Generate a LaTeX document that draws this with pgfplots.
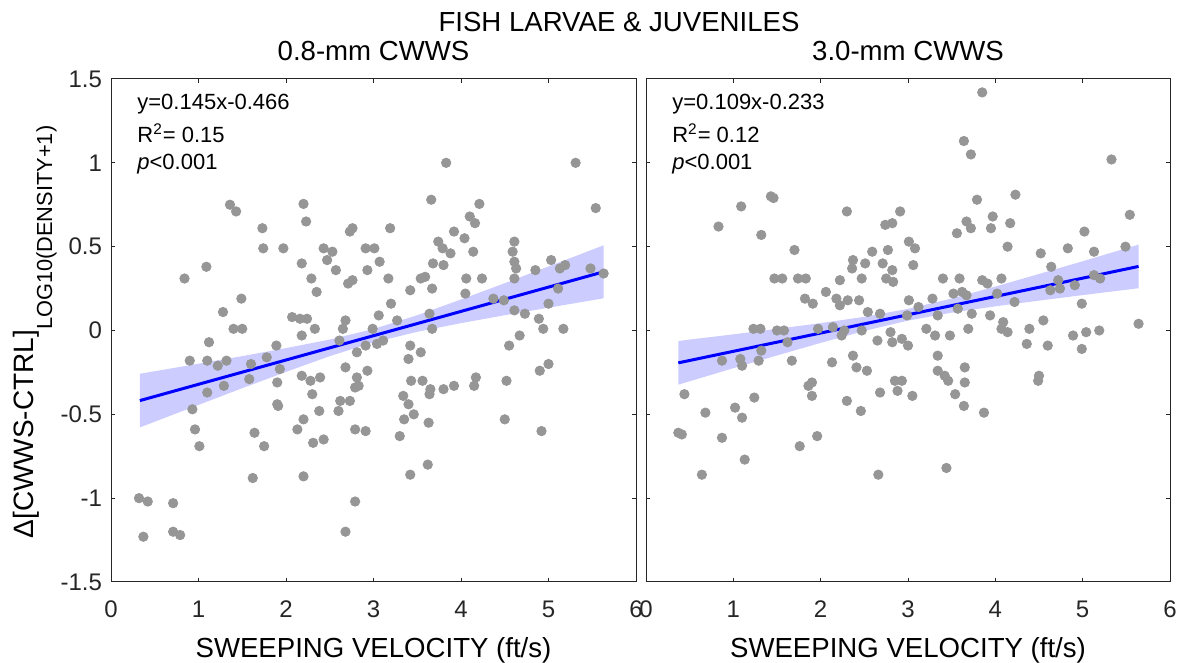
\documentclass[border=0pt]{standalone}
\usepackage{fontspec}
\setmainfont{Liberation Sans}
\usepackage{pgfplots}
\pgfplotsset{compat=1.18}
\usepackage{pgfplotstable}
\usepgfplotslibrary{fillbetween}

\definecolor{dotgray}{RGB}{150,150,150}
\definecolor{fitblue}{RGB}{0,0,255}
\definecolor{bandblue}{RGB}{204,204,255}
\definecolor{axisgray}{RGB}{38,38,38}

% 0.8-mm screen: sweeping velocity (ft/s) vs. density difference
\pgfplotstableread{
x y
1.36 0.75
1.43 0.71
2.20 0.755
2.23 0.65
1.73 0.61
1.74 0.49
1.97 0.49
2.18 0.40
2.43 0.49
2.53 0.47
2.47 0.42
2.57 0.36
2.76 0.61
2.73 0.59
2.91 0.49
2.93 0.36
2.71 0.28
2.76 0.30
2.35 0.23
2.29 0.31
0.84 0.31
1.09 0.38
1.49 0.19
1.28 0.11
1.40 0.01
1.50 0.01
2.07 0.08
2.16 0.07
2.24 0.07
2.33 0.01
2.68 0.06
2.65 0.01
2.18 -0.03
3.83 1.00
5.31 1.00
3.66 0.78
4.21 0.755
4.10 0.68
4.16 0.64
5.54 0.73
3.19 0.61
3.92 0.59
4.04 0.55
3.74 0.53
3.79 0.49
3.88 0.46
4.14 0.47
3.01 0.49
3.07 0.41
3.68 0.40
3.80 0.39
4.61 0.53
4.59 0.47
4.61 0.41
4.63 0.37
4.61 0.31
4.85 0.36
5.03 0.42
5.13 0.37
5.19 0.39
5.48 0.37
5.63 0.34
3.17 0.31
3.54 0.31
3.59 0.32
3.42 0.24
3.67 0.25
4.06 0.31
4.24 0.31
4.05 0.22
4.37 0.19
4.49 0.18
5.11 0.25
3.20 0.16
5.00 0.16
3.06 0.09
3.27 0.06
3.64 0.10
3.67 0.01
2.99 0.01
4.61 0.12
4.73 0.10
4.89 0.07
4.94 0.01
5.17 0.01
3.11 -0.06
4.67 -0.03
0.90 -0.18
1.12 -0.07
1.10 -0.18
1.22 -0.21
1.32 -0.18
1.29 -0.33
1.10 -0.37
1.60 -0.20
1.58 -0.29
1.78 -0.16
1.89 -0.09
1.93 -0.23
1.90 -0.31
1.90 -0.44
1.91 -0.45
2.18 -0.27
2.28 -0.30
2.39 -0.28
2.30 -0.38
2.38 -0.48
2.20 -0.53
2.13 -0.59
2.31 -0.67
2.43 -0.65
2.20 -0.87
2.68 -0.22
2.61 -0.06
2.81 -0.13
2.81 -0.28
2.83 -0.33
2.79 -0.34
2.62 -0.42
2.73 -0.42
2.60 -0.48
2.79 -0.59
2.91 -0.60
2.79 -1.02
2.68 -1.20
0.93 -0.47
0.96 -0.59
1.01 -0.69
1.64 -0.61
1.75 -0.69
1.62 -0.88
0.32 -1.00
0.42 -1.02
0.71 -1.03
0.37 -1.23
0.71 -1.20
0.79 -1.22
3.42 -0.09
3.54 -0.13
3.40 -0.17
2.93 -0.24
2.91 -0.09
3.04 -0.08
3.43 -0.30
3.56 -0.30
3.65 -0.35
3.64 -0.38
3.80 -0.35
3.92 -0.33
4.17 -0.28
4.15 -0.33
4.52 -0.30
3.34 -0.39
3.40 -0.44
3.46 -0.50
3.35 -0.53
3.63 -0.55
3.30 -0.63
4.50 -0.53
4.92 -0.60
3.62 -0.80
3.42 -0.86
4.90 -0.24
5.00 -0.20
4.55 -0.09
}\finepts

% 3.0-mm screen
\pgfplotstableread{
x y
1.43 0.80
1.46 0.79
1.09 0.74
0.83 0.62
1.32 0.57
1.70 0.48
2.30 0.71
2.74 0.63
2.82 0.64
2.91 0.71
2.77 0.48
2.59 0.47
2.37 0.42
2.36 0.37
2.51 0.40
2.71 0.40
2.82 0.36
2.47 0.31
2.75 0.31
2.83 0.29
1.47 0.31
1.56 0.31
1.74 0.31
1.83 0.31
2.22 0.30
2.06 0.23
1.82 0.19
1.91 0.16
2.18 0.19
2.22 0.15
2.31 0.18
2.44 0.18
2.54 0.11
2.68 0.10
1.23 0.01
1.31 0.01
1.50 0.00
1.58 0.00
1.97 0.01
2.14 0.02
2.24 -0.03
2.80 -0.01
3.85 1.42
3.64 1.13
3.72 1.05
5.33 1.02
3.79 0.78
4.23 0.81
5.54 0.69
3.97 0.68
3.67 0.65
3.72 0.61
3.95 0.61
4.17 0.64
3.56 0.58
5.02 0.59
3.01 0.53
3.08 0.49
4.14 0.50
4.83 0.49
5.13 0.47
5.49 0.50
4.52 0.46
3.06 0.39
4.64 0.38
3.40 0.31
3.59 0.31
3.85 0.30
3.91 0.28
4.07 0.31
4.72 0.30
4.63 0.24
4.74 0.25
4.91 0.27
5.13 0.33
5.20 0.31
3.52 0.22
3.62 0.23
3.67 0.21
4.02 0.22
3.01 0.18
3.28 0.19
3.12 0.14
3.57 0.13
4.22 0.17
4.99 0.16
2.99 0.09
3.34 0.09
3.73 0.10
3.94 0.09
4.09 0.05
4.55 0.06
3.69 0.01
3.21 0.01
3.31 -0.03
3.48 -0.03
4.07 0.01
4.14 -0.01
4.39 0.01
4.89 -0.03
5.04 -0.01
5.19 0.00
5.64 0.04
2.93 -0.05
0.44 -0.38
0.68 -0.49
0.37 -0.61
0.41 -0.62
0.87 -0.64
0.64 -0.86
0.87 -0.18
1.08 -0.17
1.10 -0.21
1.02 -0.46
1.10 -0.52
1.24 -0.40
1.13 -0.77
1.29 -0.18
1.32 -0.12
1.62 -0.07
1.67 -0.18
1.90 -0.31
1.86 -0.33
1.90 -0.39
1.76 -0.69
1.96 -0.63
2.13 -0.19
2.27 0.00
2.47 0.00
2.37 -0.15
2.41 -0.22
2.53 -0.24
2.65 -0.06
2.82 -0.07
2.68 -0.37
2.30 -0.42
2.46 -0.48
2.66 -0.86
2.85 -0.30
2.93 -0.30
2.88 -0.36
3.00 -0.09
3.34 -0.15
4.36 -0.08
4.60 -0.09
4.99 -0.11
3.05 -0.39
3.34 -0.24
3.42 -0.27
3.46 -0.30
3.65 -0.22
3.65 -0.31
3.54 -0.38
3.64 -0.45
3.87 -0.49
4.50 -0.27
4.49 -0.30
3.44 -0.82
}\coarsepts

\pgfplotsset{
  panel/.style={
    scale only axis, width=262.5pt, height=251.5pt,
    xmin=0, xmax=6, ymin=-1.5, ymax=1.5,
    xtick={0,1,2,3,4,5,6},
    xticklabels={0,1,2,3,4,5,6},
    ytick={-1.5,-1,-0.5,0,0.5,1,1.5},
    tick align=inside, major tick length=2.2pt,
    axis line style={axisgray, line width=0.5pt},
    every tick/.style={axisgray, line width=0.5pt},
    tick label style={font=\fontsize{12}{12}\selectfont, text=axisgray},
    xticklabel style={anchor=base, yshift=-18pt},
    yticklabel style={anchor=east, xshift=-1pt},
    title style={at={(0.5,1)}, anchor=base, yshift=3pt,
      font=\fontsize{13.8}{13.8}\selectfont},
    xlabel style={at={(0.5,0)}, anchor=base, yshift=-38pt,
      font=\fontsize{13.8}{13.8}\selectfont},
    xlabel={SWEEPING VELOCITY (ft/s)},
  },
  dots/.style={only marks, mark=*, mark size=2.35pt, color=dotgray,
    mark options={draw=dotgray, fill=dotgray}},
  fit/.style={fitblue, line width=1.5pt},
}
\tikzset{note/.style={anchor=base west, font=\fontsize{11}{11}\selectfont, inner sep=0pt}}

\begin{document}
\begin{tikzpicture}

% left panel: 0.8-mm screen
\begin{axis}[panel, at={(55.5pt,40.5pt)}, anchor=south west,
  yticklabels={-1.5,-1,-0.5,0,0.5,1,1.5},
  title={0.8-mm CWWS}]
  \addplot[name path=upA, draw=none] coordinates {
    (0.33,-0.258) (0.5,-0.243) (1,-0.198) (1.5,-0.153) (2,-0.105) (2.5,-0.054)
    (3,0.009) (3.5,0.091) (4,0.185) (4.5,0.282) (5,0.382) (5.63,0.508)};
  \addplot[name path=loA, draw=none] coordinates {
    (0.33,-0.578) (0.5,-0.544) (1,-0.444) (1.5,-0.344) (2,-0.247) (2.5,-0.153)
    (3,-0.071) (3.5,-0.008) (4,0.044) (4.5,0.091) (5,0.136) (5.63,0.192)};
  \addplot[bandblue, draw=none] fill between[of=upA and loA];
  \addplot[dots] table[x=x, y=y] {\finepts};
  \addplot[fit] coordinates {(0.33,-0.418) (5.63,0.350)};
  \node[note] at (rel axis cs:0.0495,0.940) {y=0.145x-0.466};
  \node[note] at (rel axis cs:0.0495,0.873) {R\textsuperscript{2}= 0.15};
  \node[note] at (rel axis cs:0.0495,0.820) {\textit{p}<0.001};
\end{axis}

% right panel: 3.0-mm screen
\begin{axis}[panel, at={(323pt,40.5pt)}, anchor=south west, width=262pt,
  yticklabels={},
  title={3.0-mm CWWS}]
  \addplot[name path=upB, draw=none] coordinates {
    (0.37,-0.063) (0.5,-0.054) (1,-0.023) (1.5,0.010) (2,0.044) (2.5,0.0815)
    (3,0.129) (3.5,0.1905) (4,0.262) (4.5,0.337) (5,0.413) (5.64,0.512)};
  \addplot[name path=loB, draw=none] coordinates {
    (0.37,-0.323) (0.5,-0.303) (1,-0.225) (1.5,-0.149) (2,-0.074) (2.5,-0.0025)
    (3,0.059) (3.5,0.1065) (4,0.144) (4.5,0.178) (5,0.211) (5.64,0.252)};
  \addplot[bandblue, draw=none] fill between[of=upB and loB];
  \addplot[dots] table[x=x, y=y] {\coarsepts};
  \addplot[fit] coordinates {(0.37,-0.193) (5.64,0.382)};
  \node[note] at (rel axis cs:0.0495,0.940) {y=0.109x-0.233};
  \node[note] at (rel axis cs:0.0495,0.873) {R\textsuperscript{2}= 0.12};
  \node[note] at (rel axis cs:0.0495,0.820) {\textit{p}<0.001};
\end{axis}

\node[anchor=base, font=\fontsize{13.8}{13.8}\selectfont] at (309.5pt,315.5pt)
  {FISH LARVAE \& JUVENILES};
\node[rotate=90, anchor=base, inner sep=0pt, font=\fontsize{14}{14}\selectfont]
  at (16.5pt,165.5pt)
  {Δ[CWWS-CTRL]\raisebox{-9.5pt}{\fontsize{10.9}{10.9}\selectfont LOG10(DENSITY+1)}};

% page frame
\pgfresetboundingbox
\path[use as bounding box] (0,0) rectangle (589.5pt,331.5pt);
\end{tikzpicture}
\end{document}
